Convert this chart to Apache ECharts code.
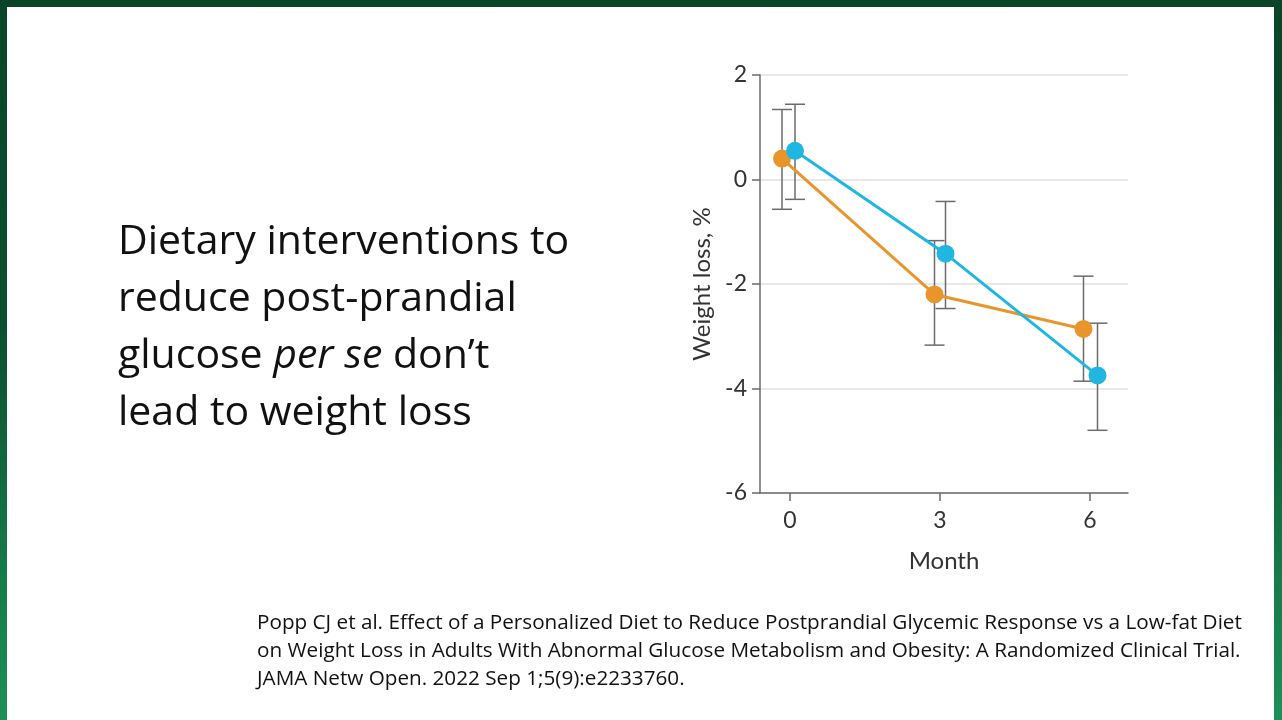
<!DOCTYPE html>
<html lang="en" style="height: 100%">
<head>
  <meta charset="utf-8">
  <style>
    html, body { margin: 0; height: 100%; }
    body { background: linear-gradient(to bottom, #0a4528 0%, #0c4f2f 45%, #177a49 80%, #1f8f58 100%); overflow: hidden; }
    #slide { position: absolute; left: 7px; top: 7px; width: 1267px; height: 713px; background: #fff; }
    #container { position: absolute; left: 0; top: 0; width: 1282px; height: 720px; }
  </style>
</head>
<body>
  <div id="slide"></div>
  <div id="container"></div>

  <script type="text/javascript" src="https://fastly.jsdelivr.net/npm/echarts@6/dist/echarts.min.js"></script>
  <script type="text/javascript">
    // values (x is slightly jittered around each month)
    var monthTicks = [0, 3, 6];
    var orangeX = [-0.16, 2.89, 5.87];
    var orangeY = [0.40, -2.20, -2.86];
    var orangeLow = [-0.57, -3.17, -3.86];
    var orangeHigh = [1.34, -1.17, -1.85];
    var blueX = [0.10, 3.11, 6.15];
    var blueY = [0.55, -1.42, -3.75];
    var blueLow = [-0.38, -2.47, -4.80];
    var blueHigh = [1.44, -0.42, -2.75];

    var titleLines = [
      'Dietary interventions to',
      'reduce post-prandial',
      '{n|glucose }{i|per se}{n| don\u2019t}',
      'lead to weight loss'
    ];
    var citationLines = [
      'Popp CJ et al. Effect of a Personalized Diet to Reduce Postprandial Glycemic Response vs a Low-fat Diet',
      'on Weight Loss in Adults With Abnormal Glucose Metabolism and Obesity: A Randomized Clinical Trial.',
      'JAMA Netw Open. 2022 Sep 1;5(9):e2233760.'
    ];

    var ORANGE = '#e8952b';
    var BLUE = '#1fb6e2';
    var FONT = 'Lato';
    var SLIDE_FONT = 'Open Sans';

    function zip(xs, ys) {
      return xs.map(function (x, i) { return [x, ys[i]]; });
    }
    function bars(xs, lows, highs) {
      return xs.map(function (x, i) { return [x, lows[i], highs[i]]; });
    }

    function renderErrorBar(params, api) {
      var x = api.value(0);
      var low = api.coord([x, api.value(1)]);
      var high = api.coord([x, api.value(2)]);
      var half = 10;
      var style = { stroke: '#6b6b6b', lineWidth: 1.5 };
      return {
        type: 'group',
        children: [
          { type: 'line', shape: { x1: high[0], y1: high[1], x2: low[0], y2: low[1] }, style: style },
          { type: 'line', shape: { x1: high[0] - half, y1: high[1], x2: high[0] + half, y2: high[1] }, style: style },
          { type: 'line', shape: { x1: low[0] - half, y1: low[1], x2: low[0] + half, y2: low[1] }, style: style }
        ]
      };
    }

    var dom = document.getElementById('container');
    var myChart = echarts.init(dom, null, { renderer: 'canvas' });

    var graphics = [];
    titleLines.forEach(function (line, i) {
      graphics.push({
        type: 'text',
        left: 118,
        top: 222 + i * 57,
        style: {
          text: line,
          fill: '#111',
          font: '41px ' + SLIDE_FONT,
          rich: {
            n: { fontSize: 41, fontFamily: SLIDE_FONT, fill: '#111' },
            i: { fontSize: 41, fontFamily: SLIDE_FONT, fontStyle: 'italic', fill: '#111' }
          }
        }
      });
    });
    citationLines.forEach(function (line, i) {
      graphics.push({
        type: 'text',
        left: 257,
        top: 613 + i * 28,
        style: { text: line, fill: '#111', font: '20.7px ' + SLIDE_FONT }
      });
    });

    var option = {
      animation: false,
      backgroundColor: 'transparent',
      textStyle: { fontFamily: FONT },
      graphic: graphics,
      grid: { left: 760, top: 75, right: 154, bottom: 227 },
      xAxis: {
        type: 'value',
        min: -0.6,
        max: 6.76,
        name: 'Month',
        nameLocation: 'middle',
        nameGap: 56,
        nameTextStyle: { fontSize: 24, color: '#333', fontFamily: FONT },
        axisLine: { onZero: false, lineStyle: { color: '#6b6b6b', width: 1.5 } },
        axisTick: { show: true, length: 8, customValues: monthTicks, lineStyle: { color: '#6b6b6b', width: 1.5 } },
        axisLabel: { customValues: monthTicks, fontSize: 23, color: '#333', margin: 16 },
        splitLine: { show: false }
      },
      yAxis: {
        type: 'value',
        min: -6,
        max: 2,
        interval: 2,
        name: 'Weight loss, %',
        nameLocation: 'middle',
        nameRotate: 90,
        nameGap: 46,
        nameTextStyle: { fontSize: 24, color: '#333', fontFamily: FONT },
        axisLine: { show: true, onZero: false, lineStyle: { color: '#6b6b6b', width: 1.5 } },
        axisTick: { show: true, length: 8, lineStyle: { color: '#6b6b6b', width: 1.5 } },
        axisLabel: { fontSize: 23, color: '#333', margin: 13 },
        splitLine: { lineStyle: { color: '#e2e2e2', width: 1.5 } }
      },
      series: [
        {
          type: 'custom',
          name: 'orange CI',
          renderItem: renderErrorBar,
          encode: { x: 0, y: [1, 2] },
          data: bars(orangeX, orangeLow, orangeHigh),
          z: 1
        },
        {
          type: 'custom',
          name: 'blue CI',
          renderItem: renderErrorBar,
          encode: { x: 0, y: [1, 2] },
          data: bars(blueX, blueLow, blueHigh),
          z: 1
        },
        {
          type: 'line',
          name: 'Low-fat',
          data: zip(orangeX, orangeY),
          symbol: 'circle',
          symbolSize: 18,
          lineStyle: { color: ORANGE, width: 3 },
          itemStyle: { color: ORANGE },
          z: 3
        },
        {
          type: 'line',
          name: 'Personalized',
          data: zip(blueX, blueY),
          symbol: 'circle',
          symbolSize: 18,
          lineStyle: { color: BLUE, width: 3 },
          itemStyle: { color: BLUE },
          z: 4
        }
      ]
    };

    myChart.setOption(option);
    window.addEventListener('resize', myChart.resize);
  </script>
</body>
</html>
